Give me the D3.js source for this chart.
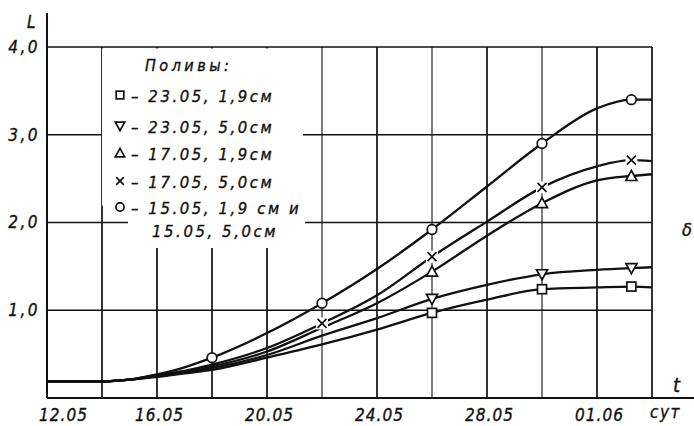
<!DOCTYPE html>
<html><head><meta charset="utf-8">
<script src="https://cdn.jsdelivr.net/npm/d3@7/dist/d3.min.js"></script>
<style>
html,body{margin:0;padding:0;background:#fff;}
text{font-family:"DejaVu Sans Condensed","DejaVu Sans",sans-serif;font-style:italic;fill:#111;stroke:#111;stroke-width:0.35px;}
</style></head>
<body>
<svg id="chart" width="694" height="426"></svg>
<script>
// ---- data (days counted from 12.05) ----
const days = [0, 2, 3, 4, 5, 6, 8, 10, 12, 14, 16, 18, 20, 21.25, 22];
const circleVals   = [0.19,0.19,0.21,0.27,0.35,0.46,0.74,1.08,1.47,1.92,2.41,2.90,3.30,3.40,3.40];
const crossVals    = [0.19,0.19,0.21,0.26,0.31,0.38,0.57,0.85,1.17,1.61,2.01,2.40,2.64,2.71,2.70];
const triUpVals    = [0.19,0.19,0.21,0.25,0.30,0.36,0.53,0.80,1.08,1.44,1.85,2.22,2.48,2.53,2.55];
const triDownVals  = [0.19,0.19,0.21,0.25,0.29,0.34,0.49,0.71,0.91,1.13,1.29,1.41,1.46,1.48,1.49];
const squareVals   = [0.19,0.19,0.21,0.24,0.28,0.32,0.46,0.61,0.78,0.97,1.12,1.24,1.26,1.27,1.26];
const circleMarks  = [6, 10, 14, 18, 21.25];
const crossMarks   = [10, 14, 18, 21.25];
const triUpMarks   = [14, 18, 21.25];
const triDownMarks = [14, 18, 21.25];
const squareMarks  = [14, 18, 21.25];
const xTickDays   = [0, 4, 8, 12, 16, 20];
const xTickLabels = ["12.05", "16.05", "20.05", "24.05", "28.05", "01.06"];
const yTicks = [1, 2, 3, 4];
const legendTitle = "Поливы:";
const legendLabels = ["– 23.05, 1,9см", "– 23.05, 5,0см", "– 17.05, 1,9см", "– 17.05, 5,0см", "– 15.05, 1,9 см  и", "15.05, 5,0см"];
const legendShapes = ["square", "triDown", "triUp", "cross", "circle", null];

const svg = d3.select("#chart");
const x = d3.scaleLinear().domain([0, 22]).range([47, 652]);
const y = d3.scaleLinear().domain([0, 4]).range([398, 47]);

// grid
const g = svg.append("g");
g.selectAll("line.h").data(yTicks).join("line")
  .attr("x1", x(0)).attr("x2", x(22)).attr("y1", d => y(d)).attr("y2", d => y(d))
  .attr("stroke", "#111").attr("stroke-width", 1.7);
g.selectAll("line.v").data(d3.range(2, 23, 2)).join("line")
  .attr("x1", d => x(d)).attr("x2", d => x(d)).attr("y1", y(4)).attr("y2", y(0))
  .attr("stroke", "#111").attr("stroke-width", d => (d === 10 || d === 14 || d === 18) ? 1.1 : 1.7);

// legend background mask
svg.append("rect").attr("x", 102).attr("y", 48.5).attr("width", 201).attr("height", 157).attr("fill", "#fff");
svg.append("rect").attr("x", 128).attr("y", 200).attr("width", 177).attr("height", 48).attr("fill", "#fff");

// axes
svg.append("line").attr("x1", x(0)).attr("x2", x(0)).attr("y1", 13).attr("y2", y(0)).attr("stroke", "#111").attr("stroke-width", 2);
svg.append("line").attr("x1", x(0)).attr("x2", 694).attr("y1", y(0)).attr("y2", y(0)).attr("stroke", "#111").attr("stroke-width", 2);

const yAxis = d3.axisLeft(y).tickValues(yTicks).tickSize(0).tickPadding(7)
  .tickFormat(d => d3.format(".1f")(d).replace(".", ","));
const ya = svg.append("g").attr("transform", `translate(${x(0)},0)`).call(yAxis);
ya.select(".domain").remove();
ya.selectAll("text").attr("font-size", 17).attr("letter-spacing", 2.5)
  .style("font-family", '"DejaVu Sans Condensed","DejaVu Sans",sans-serif').style("font-style", "italic").attr("fill", "#111");

const xAxis = d3.axisBottom(x).tickValues(xTickDays).tickSize(0).tickPadding(11)
  .tickFormat((d, i) => xTickLabels[i]);
const xa = svg.append("g").attr("transform", `translate(0,${y(0)})`).call(xAxis);
xa.select(".domain").remove();
xa.selectAll("text").attr("font-size", 17).attr("letter-spacing", 1)
  .style("font-family", '"DejaVu Sans Condensed","DejaVu Sans",sans-serif').style("font-style", "italic").attr("fill", "#111")
  .attr("dx", (d, i) => i === 0 ? 16 : 2);

// curves
const series = [
  {vals: circleVals, marks: circleMarks, shape: "circle"},
  {vals: crossVals, marks: crossMarks, shape: "cross"},
  {vals: triUpVals, marks: triUpMarks, shape: "triUp"},
  {vals: triDownVals, marks: triDownMarks, shape: "triDown"},
  {vals: squareVals, marks: squareMarks, shape: "square"}
];
const line = d3.line().x(d => x(d[0])).y(d => y(d[1])).curve(d3.curveMonotoneX);
series.forEach(s => {
  const pts = days.map((d, i) => [d, s.vals[i]]);
  svg.append("path").attr("d", line(pts)).attr("fill", "none").attr("stroke", "#111").attr("stroke-width", 2.3);
});

function drawMarker(sel, shape, cx, cy, k) {
  k = k || 1;
  const st = {stroke: "#111", "stroke-width": 1.7, fill: "#fff"};
  let el;
  if (shape === "circle") el = sel.append("circle").attr("cx", cx).attr("cy", cy).attr("r", 4.8 * k);
  else if (shape === "square") el = sel.append("rect").attr("x", cx - 4.5 * k).attr("y", cy - 4.5 * k).attr("width", 9 * k).attr("height", 9 * k);
  else if (shape === "triUp") el = sel.append("path").attr("d", `M${cx},${cy - 5.5 * k}L${cx + 5.5 * k},${cy + 4.5 * k}L${cx - 5.5 * k},${cy + 4.5 * k}Z`);
  else if (shape === "triDown") el = sel.append("path").attr("d", `M${cx},${cy + 5.5 * k}L${cx + 5.5 * k},${cy - 4.5 * k}L${cx - 5.5 * k},${cy - 4.5 * k}Z`);
  else if (shape === "cross") {
    sel.append("rect").attr("x", cx - 6 * k).attr("y", cy - 6 * k).attr("width", 12 * k).attr("height", 12 * k).attr("fill", "#fff");
    el = sel.append("path").attr("d", `M${cx - 4.5 * k},${cy - 4.5 * k}L${cx + 4.5 * k},${cy + 4.5 * k}M${cx + 4.5 * k},${cy - 4.5 * k}L${cx - 4.5 * k},${cy + 4.5 * k}`);
  }
  Object.entries(st).forEach(([a, v]) => el.attr(a, v));
  if (shape === "cross") el.attr("fill", "none");
}
series.forEach(s => {
  s.marks.forEach(m => {
    const v = s.vals[days.indexOf(m)];
    drawMarker(svg, s.shape, x(m), y(v));
  });
});

// legend
svg.append("text").attr("x", 145).attr("y", 71).attr("font-size", 16).attr("letter-spacing", 3.5).text(legendTitle);
const legY = [96, 127, 154, 182, 208, 231];
legendLabels.forEach((t, i) => {
  const shp = legendShapes[i];
  if (shp) drawMarker(svg, shp, 120, legY[i] - 1, 0.85);
  svg.append("text").attr("x", shp ? 131 : 152).attr("y", legY[i] + 6).attr("font-size", 16.5).attr("letter-spacing", 2.6).text(t);
});

// axis titles
svg.append("text").attr("x", 27).attr("y", 28).attr("font-size", 17).text("L");
svg.append("text").attr("x", 673).attr("y", 392).attr("font-size", 20).text("t");
svg.append("text").attr("x", 682).attr("y", 236).attr("font-size", 18).text("δ");
svg.append("text").attr("x", 650).attr("y", 418).attr("font-size", 17).attr("letter-spacing", 1.5).text("сут");
</script>
</body></html>
